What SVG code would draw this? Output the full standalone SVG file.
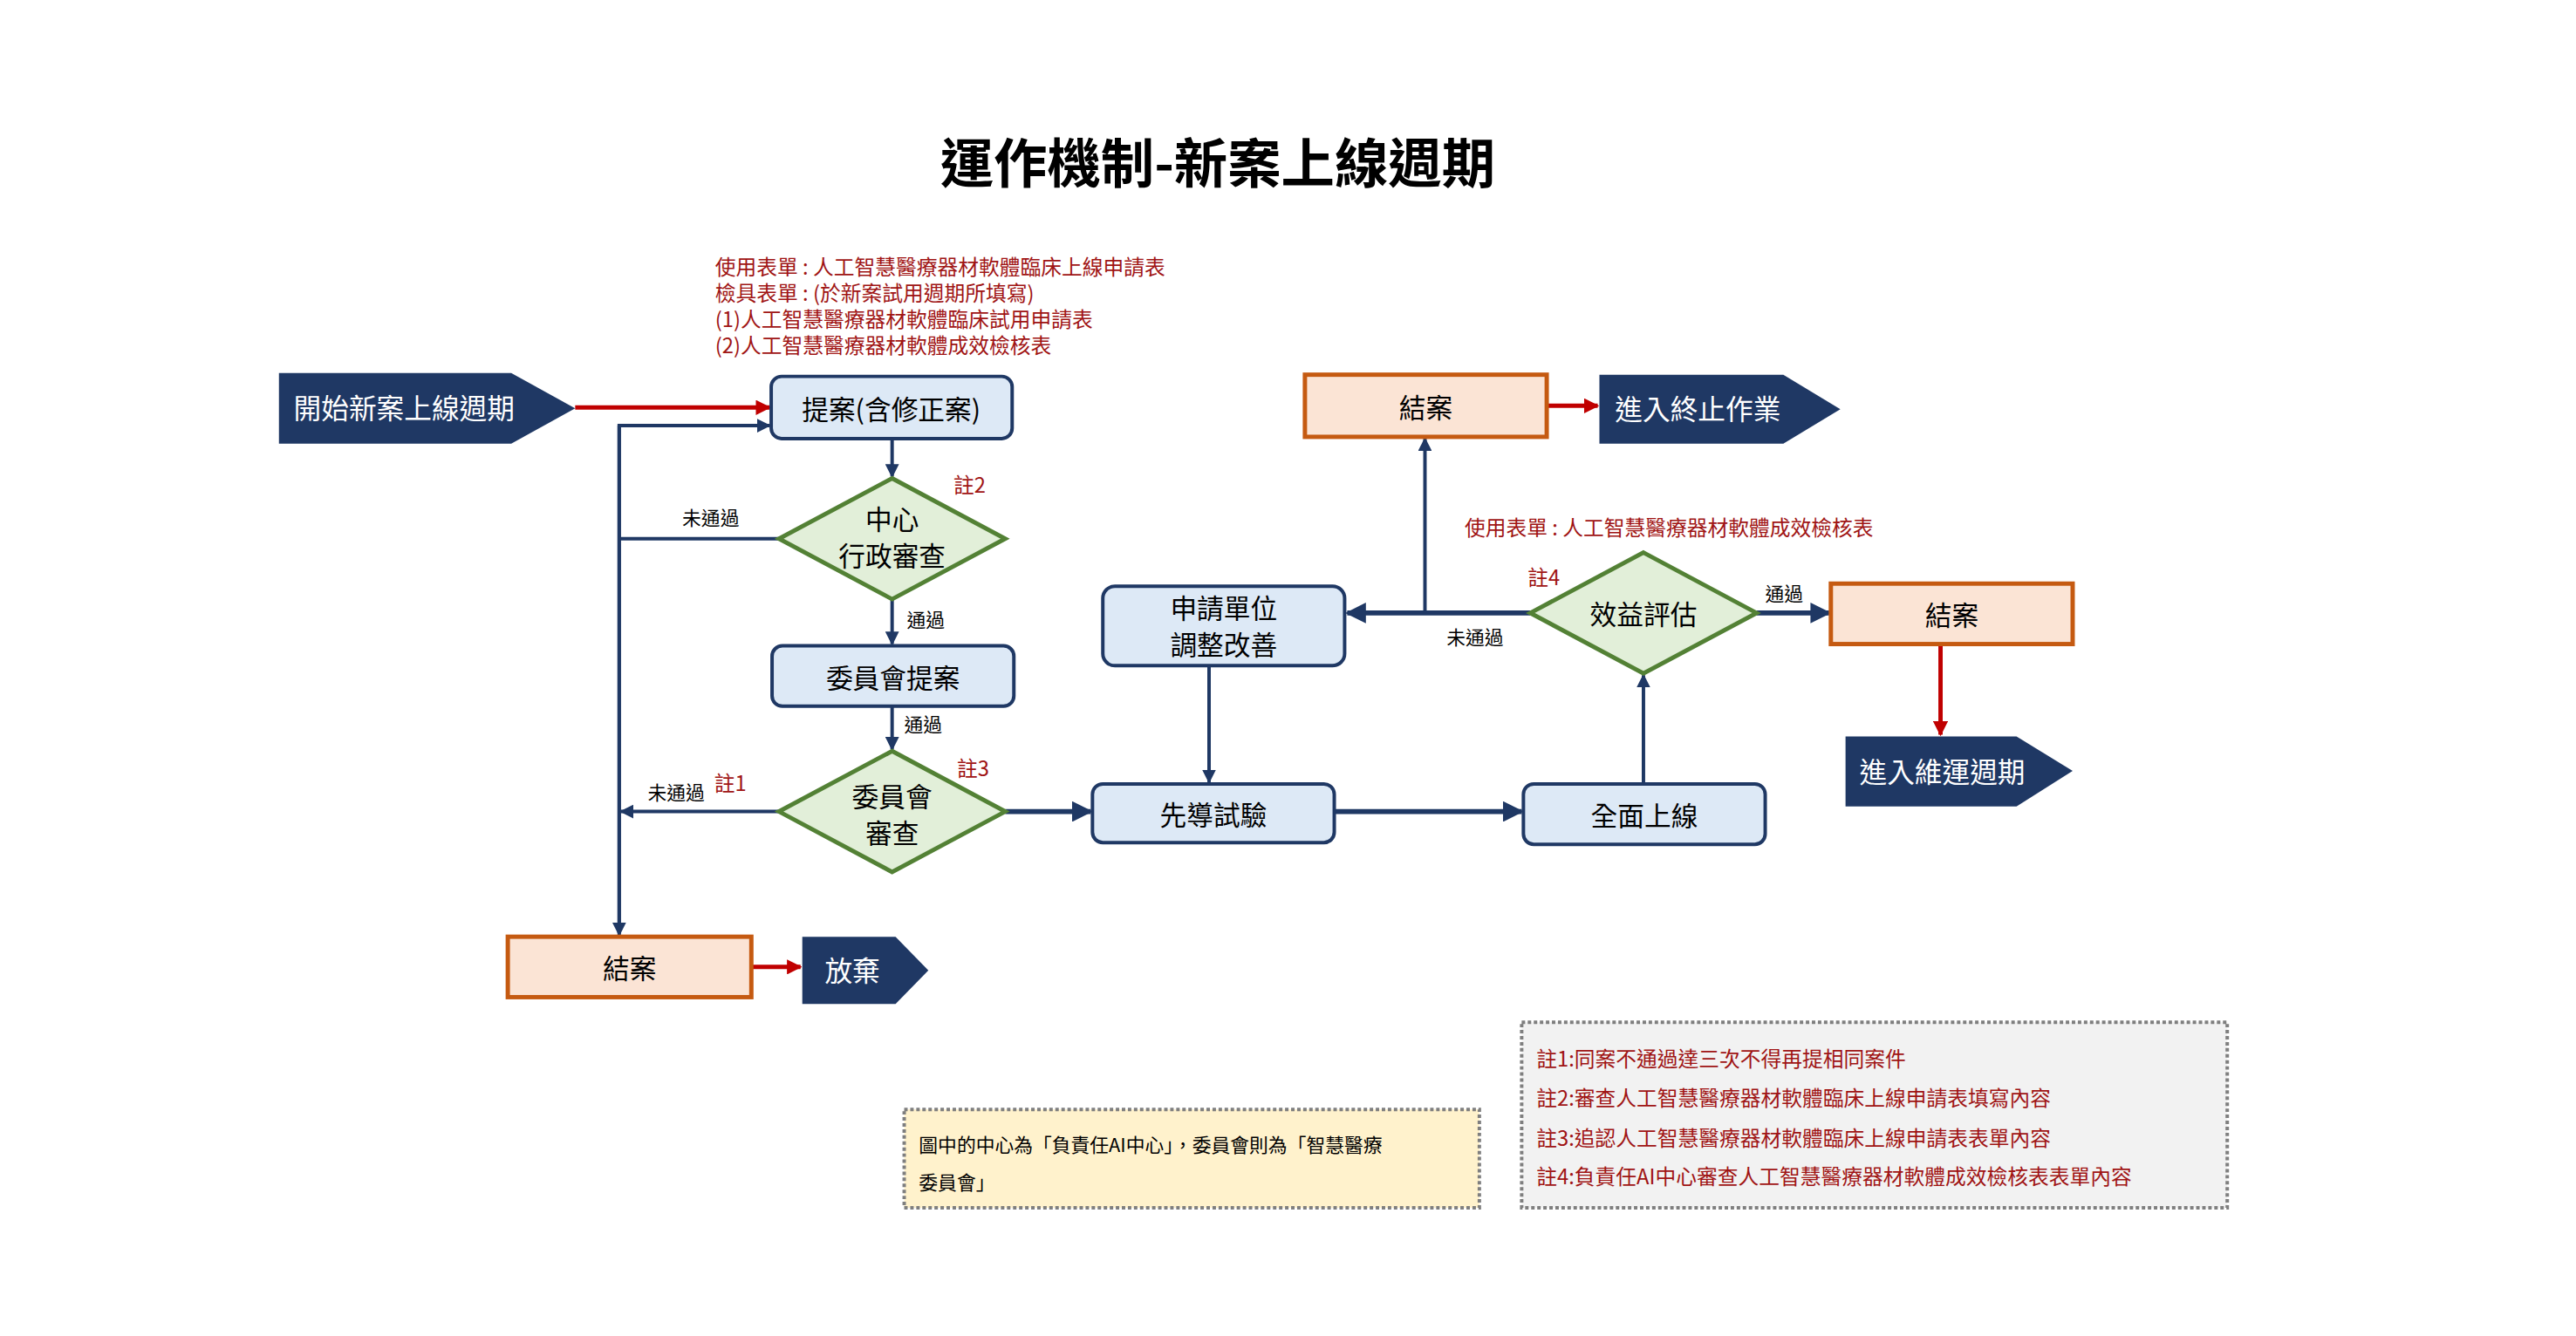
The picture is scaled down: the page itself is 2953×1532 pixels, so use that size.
<svg xmlns="http://www.w3.org/2000/svg" width="2953" height="1532" viewBox="0 0 2953 1532">
<defs>
<style>
text{font-family:"Noto Sans CJK TC","Noto Sans CJK SC",sans-serif}
.nt{font-size:31px;fill:#000;text-anchor:middle;dominant-baseline:central}
.wt{font-size:32px;fill:#fff;dominant-baseline:central}
.lb{font-size:22px;fill:#000}
.rd{font-size:24px;fill:#a01414}
.box{fill:#dde9f6;stroke:#1f3864;stroke-width:4}
.dia{fill:#e2efd9;stroke:#538135;stroke-width:5}
.end{fill:#fbe4d5;stroke:#c55a11;stroke-width:5}
.pent{fill:#1f3864}
.c{fill:none;stroke:#1f3864;stroke-width:4}
.ct{fill:none;stroke:#1f3864;stroke-width:6}
.cr{fill:none;stroke:#c00000;stroke-width:5}
</style>
<marker id="ab" viewBox="0 0 10 10" refX="9" refY="5" markerWidth="4" markerHeight="4" orient="auto"><path d="M0,0L10,5L0,10z" fill="#1f3864"/></marker>
<marker id="ar" viewBox="0 0 10 10" refX="9" refY="5" markerWidth="3.5" markerHeight="3.5" orient="auto"><path d="M0,0L10,5L0,10z" fill="#c00000"/></marker>
</defs>
<rect width="2953" height="1532" fill="#fff"/>
<g transform="scale(0.99)">
<text x="1410" y="212" font-size="62" font-weight="bold" text-anchor="middle">運作機制-新案上線週期</text>
<g id="forms" class="rd">
<text x="828" y="318">使用表單 : 人工智慧醫療器材軟體臨床上線申請表</text>
<text x="828" y="348">檢具表單 : (於新案試用週期所填寫)</text>
<text x="828" y="379">(1)人工智慧醫療器材軟體臨床試用申請表</text>
<text x="828" y="409">(2)人工智慧醫療器材軟體成效檢核表</text>
<text x="1696" y="620">使用表單 : 人工智慧醫療器材軟體成效檢核表</text>
</g>
<g id="connectors">
<line class="cr" x1="666" y1="472" x2="891" y2="472" marker-end="url(#ar)"/>
<polyline class="c" points="902,624 717,624"/>
<polyline class="c" points="717,1081 717,493 891,493" marker-end="url(#ab)"/>
<line class="c" x1="717" y1="493" x2="717" y2="1083" marker-end="url(#ab)"/>
<line class="c" x1="902" y1="940" x2="719" y2="940" marker-end="url(#ab)"/>
<line class="c" x1="1033" y1="508" x2="1033" y2="552" marker-end="url(#ab)"/>
<line class="c" x1="1033" y1="694" x2="1033" y2="746" marker-end="url(#ab)"/>
<line class="c" x1="1033" y1="818" x2="1033" y2="868" marker-end="url(#ab)"/>
<line class="ct" x1="1164" y1="940" x2="1263" y2="940" marker-end="url(#ab)"/>
<line class="ct" x1="1545" y1="940" x2="1762" y2="940" marker-end="url(#ab)"/>
<line class="c" x1="1903" y1="908" x2="1903" y2="782" marker-end="url(#ab)"/>
<line class="ct" x1="1772" y1="710" x2="1560" y2="710" marker-end="url(#ab)"/>
<line class="c" x1="1650" y1="710" x2="1650" y2="508" marker-end="url(#ab)"/>
<line class="c" x1="1400" y1="771" x2="1400" y2="906" marker-end="url(#ab)"/>
<line class="ct" x1="2034" y1="710" x2="2118" y2="710" marker-end="url(#ab)"/>
<line class="cr" x1="2247" y1="746" x2="2247" y2="851" marker-end="url(#ar)"/>
<line class="cr" x1="1791" y1="470" x2="1850" y2="470" marker-end="url(#ar)"/>
<line class="cr" x1="870" y1="1120" x2="927" y2="1120" marker-end="url(#ar)"/>
</g>
<g id="labels">
<text class="lb" x="790" y="608">未通過</text>
<text class="lb" x="1050" y="726">通過</text>
<text class="lb" x="1047" y="847">通過</text>
<text class="lb" x="750" y="926">未通過</text>
<text class="rd" x="827" y="916" font-size="20">註1</text>
<text class="lb" x="1675" y="746">未通過</text>
<text class="lb" x="2044" y="696">通過</text>
<text class="rd" x="1104" y="571">註2</text>
<text class="rd" x="1108" y="899">註3</text>
<text class="rd" x="1769" y="678">註4</text>
</g>
<g id="start"><path class="pent" d="M323,432H592L666,473L592,514H323z"/><text class="wt" x="340" y="471">開始新案上線週期</text></g>
<g id="proposal"><rect class="box" x="893" y="436" width="279" height="72" rx="12"/><text class="nt" x="1032" y="472">提案(含修正案)</text></g>
<g id="d1"><path class="dia" d="M1033,554L1164,624L1033,694L902,624z"/><text class="nt" x="1033" y="600">中心</text><text class="nt" x="1033" y="642">行政審查</text></g>
<g id="cprop"><rect class="box" x="894" y="748" width="280" height="70" rx="12"/><text class="nt" x="1034" y="783">委員會提案</text></g>
<g id="d2"><path class="dia" d="M1033,870L1164,940L1033,1010L902,940z"/><text class="nt" x="1033" y="921">委員會</text><text class="nt" x="1033" y="963">審查</text></g>
<g id="pilot"><rect class="box" x="1265" y="908" width="280" height="68" rx="12"/><text class="nt" x="1405" y="942">先導試驗</text></g>
<g id="full"><rect class="box" x="1764" y="908" width="280" height="70" rx="12"/><text class="nt" x="1904" y="943">全面上線</text></g>
<g id="adjust"><rect class="box" x="1277" y="679" width="280" height="92" rx="14"/><text class="nt" x="1417" y="703">申請單位</text><text class="nt" x="1417" y="745">調整改善</text></g>
<g id="d3"><path class="dia" d="M1903,640L2034,710L1903,780L1772,710z"/><text class="nt" x="1903" y="710">效益評估</text></g>
<g id="close1"><rect class="end" x="1511" y="434" width="280" height="72"/><text class="nt" x="1651" y="470">結案</text></g>
<g id="term"><path class="pent" d="M1852,434H2065L2131,474L2065,514H1852z"/><text class="wt" x="1870" y="472">進入終止作業</text></g>
<g id="close2"><rect class="end" x="2120" y="676" width="280" height="70"/><text class="nt" x="2260" y="711">結案</text></g>
<g id="maint"><path class="pent" d="M2137,853H2335L2400,893L2335,934H2137z"/><text class="wt" x="2153" y="892">進入維運週期</text></g>
<g id="close3"><rect class="end" x="588" y="1085" width="282" height="70"/><text class="nt" x="729" y="1120">結案</text></g>
<g id="giveup"><path class="pent" d="M929,1085H1037L1075,1124L1037,1163H929z"/><text class="wt" x="955" y="1122">放棄</text></g>
<g id="note1"><rect x="1047" y="1285" width="666" height="114" fill="#fff2cc" stroke="#7f7f7f" stroke-width="4" stroke-dasharray="4,3"/>
<text class="lb" x="1064" y="1334">圖中的中心為「負責任AI中心」，委員會則為「智慧醫療</text><text class="lb" x="1064" y="1378">委員會」</text></g>
<g id="note2"><rect x="1762" y="1184" width="817" height="215" fill="#f2f2f2" stroke="#7f7f7f" stroke-width="4" stroke-dasharray="4,3"/>
<g class="rd"><text x="1779" y="1235">註1:同案不通過達三次不得再提相同案件</text><text x="1779" y="1281">註2:審查人工智慧醫療器材軟體臨床上線申請表填寫內容</text><text x="1779" y="1327">註3:追認人工智慧醫療器材軟體臨床上線申請表表單內容</text><text x="1779" y="1372">註4:負責任AI中心審查人工智慧醫療器材軟體成效檢核表表單內容</text></g></g>
</g>
</svg>
